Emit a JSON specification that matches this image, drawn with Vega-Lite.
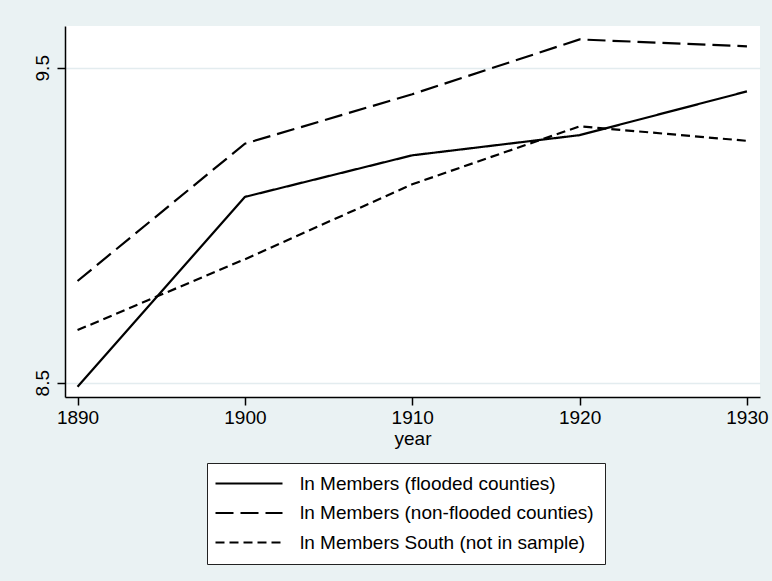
{
  "$schema": "https://vega.github.io/schema/vega-lite/v6.json",
  "autosize": "none",
  "width": 695,
  "height": 371,
  "padding": {"left": 65, "top": 26, "right": 12, "bottom": 184},
  "background": "#EAF2F3",
  "config": {
    "view": {"fill": "white", "stroke": null},
    "font": "Liberation Sans"
  },
  "data": {
    "values": [
      {"year": 1890, "series": "ln Members (flooded counties)", "value": 8.487},
      {"year": 1900, "series": "ln Members (flooded counties)", "value": 9.090},
      {"year": 1910, "series": "ln Members (flooded counties)", "value": 9.222},
      {"year": 1920, "series": "ln Members (flooded counties)", "value": 9.286},
      {"year": 1930, "series": "ln Members (flooded counties)", "value": 9.425},
      {"year": 1890, "series": "ln Members (non-flooded counties)", "value": 8.823},
      {"year": 1900, "series": "ln Members (non-flooded counties)", "value": 9.259},
      {"year": 1910, "series": "ln Members (non-flooded counties)", "value": 9.416},
      {"year": 1920, "series": "ln Members (non-flooded counties)", "value": 9.590},
      {"year": 1930, "series": "ln Members (non-flooded counties)", "value": 9.568},
      {"year": 1890, "series": "ln Members South (not in sample)", "value": 8.667},
      {"year": 1900, "series": "ln Members South (not in sample)", "value": 8.892},
      {"year": 1910, "series": "ln Members South (not in sample)", "value": 9.130},
      {"year": 1920, "series": "ln Members South (not in sample)", "value": 9.314},
      {"year": 1930, "series": "ln Members South (not in sample)", "value": 9.268}
    ]
  },
  "mark": {"type": "line", "color": "black", "strokeWidth": 2.2},
  "encoding": {
    "x": {
      "field": "year", "type": "quantitative",
      "scale": {"domain": [1889.25, 1930.78], "nice": false, "zero": false},
      "axis": {
        "values": [1890, 1900, 1910, 1920, 1930], "format": "d",
        "grid": false, "domainColor": "black", "domainWidth": 1.5,
        "tickColor": "black", "tickWidth": 1.5, "tickSize": 8,
        "labelFontSize": 19, "labelColor": "black", "labelPadding": 3,
        "title": "year", "titleFontSize": 19, "titleFontWeight": "normal",
        "titleColor": "black", "titlePadding": 2
      }
    },
    "y": {
      "field": "value", "type": "quantitative",
      "scale": {"domain": [8.4546, 9.6326], "nice": false, "zero": false},
      "axis": {
        "values": [8.5, 9.5], "format": ".1f",
        "grid": true, "gridColor": "#E3ECEF", "gridWidth": 1.5,
        "domainColor": "black", "domainWidth": 1.5,
        "tickColor": "black", "tickWidth": 1.5, "tickSize": 8,
        "labelFontSize": 19, "labelColor": "black", "labelAngle": 270,
        "labelPadding": 5, "title": null
      }
    },
    "strokeDash": {
      "field": "series", "type": "nominal",
      "scale": {
        "domain": ["ln Members (flooded counties)", "ln Members (non-flooded counties)", "ln Members South (not in sample)"],
        "range": [[1, 0], [18, 7], [9, 5]]
      },
      "legend": {
        "orient": "none", "legendX": 142, "legendY": 437,
        "direction": "vertical", "title": null,
        "fillColor": "white", "strokeColor": "#222", "padding": 11,
        "symbolType": "M-2.4,0H11", "symbolSize": 100, "symbolStrokeWidth": 2.2,
        "symbolStrokeColor": "black",
        "labelFontSize": 19, "labelColor": "black", "labelOffset": 63,
        "labelLimit": 400, "rowPadding": 9.5
      }
    }
  }
}
